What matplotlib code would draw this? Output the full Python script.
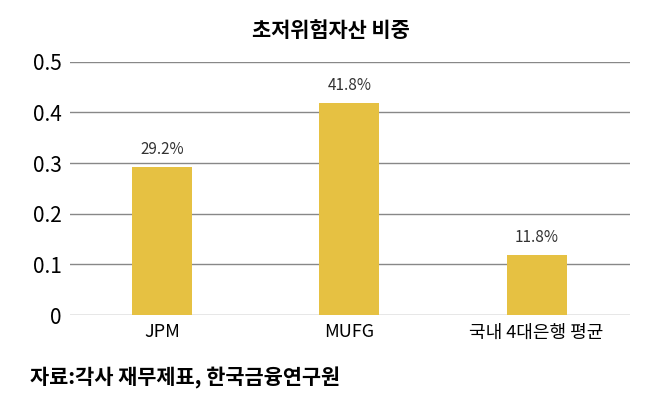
import matplotlib
matplotlib.use("Agg")
import matplotlib.pyplot as plt

categories = ["JPM", "MUFG", "국내 4대은행 평균"]
values = [0.292, 0.418, 0.118]
labels = ["29.2%", "41.8%", "11.8%"]
yticks = [0, 0.1, 0.2, 0.3, 0.4, 0.5]
ytick_labels = ["0", "0.1", "0.2", "0.3", "0.4", "0.5"]

plt.rcParams['font.family'] = ['Noto Sans CJK KR', 'DejaVu Sans']
fig = plt.figure(figsize=(6.62, 4.04), dpi=100)
ax = fig.add_axes([0.106, 0.22, 0.846, 0.627])
x = range(len(categories))
ax.bar(x, values, width=0.32, color="#E6C142", zorder=3)
for xi, v, l in zip(x, values, labels):
    ax.text(xi, v + 0.018, l, ha="center", va="bottom", fontsize=11, color="#333333")
ax.set_xlim(-0.49, 2.5)
ax.set_ylim(0, 0.5)
ax.set_yticks(yticks)
ax.set_yticklabels(ytick_labels, fontsize=15)
ax.set_xticks(list(x))
ax.set_xticklabels(categories, fontsize=13)
ax.grid(axis="y", color="#888888", linewidth=1, zorder=0)
for s in ax.spines.values():
    s.set_visible(False)
ax.tick_params(length=0, pad=6)
fig.text(0.5, 0.925, "초저위험자산 비중", ha="center", va="center", fontsize=15, fontweight="bold")
fig.text(0.045, 0.065, "자료:각사 재무제표, 한국금융연구원", ha="left", va="center", fontsize=15, fontweight="bold")
fig.savefig("out.png", dpi=100)
